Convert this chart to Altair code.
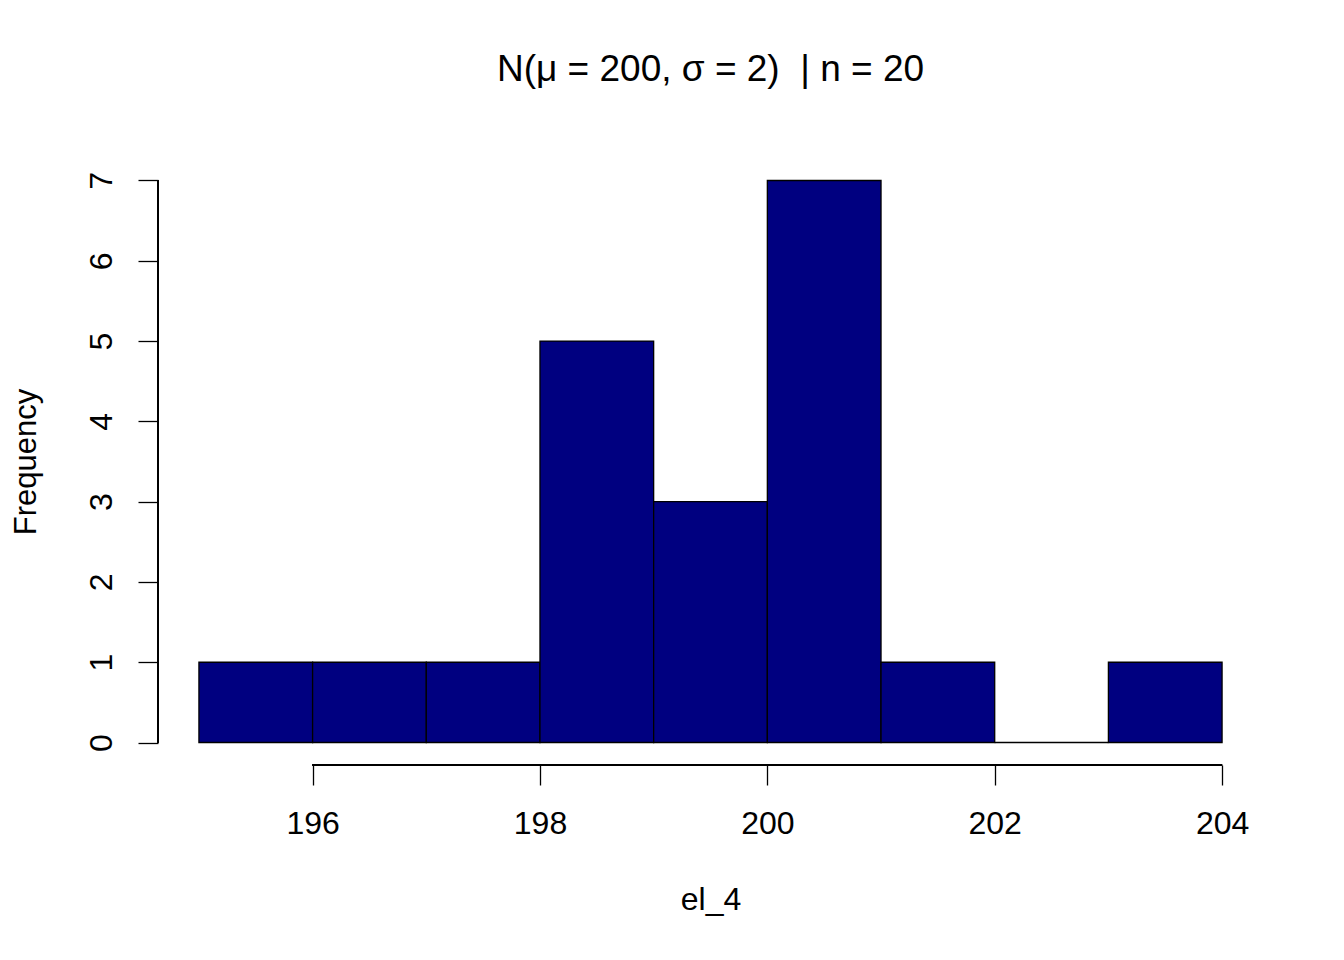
import altair as alt
import pandas as pd

# histogram bins (left edges, width 1) and their counts
bin_start = [195, 196, 197, 198, 199, 200, 201, 202, 203]
counts = [1, 1, 1, 5, 3, 7, 1, 0, 1]
x_ticks = [196, 198, 200, 202, 204]
y_ticks = [0, 1, 2, 3, 4, 5, 6, 7]

FONT = "Liberation Sans"
X_MIN, X_MAX = 194.64, 204.36
Y_MIN, Y_MAX = -0.28, 7.28

df = pd.DataFrame({
    "start": bin_start,
    "end": [b + 1 for b in bin_start],
    "count": counts,
})

x_scale = alt.Scale(domain=[X_MIN, X_MAX], nice=False, zero=False)
y_scale = alt.Scale(domain=[Y_MIN, Y_MAX], nice=False, zero=False)

x_axis = alt.Axis(
    values=x_ticks, format="d", domain=False, grid=False, tickSize=20,
    tickWidth=1.3, tickColor="black", labelFont=FONT, labelFontSize=32,
    labelColor="black", labelPadding=23, titleFont=FONT, titleFontSize=32,
    titleFontWeight="normal", titleColor="black", titlePadding=45,
    labelFlush=False,
)
y_axis = alt.Axis(
    values=y_ticks, format="d", domain=False, grid=False, tickSize=20,
    tickWidth=1.3, tickColor="black", labelFont=FONT, labelFontSize=32,
    labelColor="black", labelAngle=270, labelPadding=20, titleFont=FONT,
    titleFontSize=31, titleFontWeight="normal", titleColor="black",
    titlePadding=43,
)

bars = alt.Chart(df).mark_rect(
    color="#000080", stroke="black", strokeWidth=1.3
).encode(
    x=alt.X("start:Q", scale=x_scale, axis=x_axis, title="el_4"),
    x2="end:Q",
    y=alt.Y("count:Q", scale=y_scale, axis=y_axis, title="Frequency"),
    y2=alt.datum(0),
)

x_line = alt.Chart(df).mark_rule(color="black", strokeWidth=1.3).encode(
    x=alt.datum(min(x_ticks), scale=x_scale),
    x2=alt.datum(max(x_ticks)),
    y=alt.datum(Y_MIN, scale=y_scale),
)
y_line = alt.Chart(df).mark_rule(color="black", strokeWidth=1.3).encode(
    y=alt.datum(min(y_ticks), scale=y_scale),
    y2=alt.datum(max(y_ticks)),
    x=alt.datum(X_MIN, scale=x_scale),
)

chart = (
    alt.layer(bars, x_line, y_line)
    .properties(
        width=1105,
        height=607,
        background="white",
        autosize=alt.AutoSizeParams(type="none"),
        padding={"left": 150, "top": 150, "right": 70, "bottom": 190},
        title=alt.Title(
            "N(μ = 200, σ = 2)\u00a0 | n = 20",
            font=FONT, fontSize=37, fontWeight="normal", color="black",
            baseline="alphabetic", offset=40, anchor="middle",
        ),
    )
    .configure_view(strokeWidth=0, stroke=None)
)

chart.save("out.html", embed_options={"renderer": "svg", "actions": False})
